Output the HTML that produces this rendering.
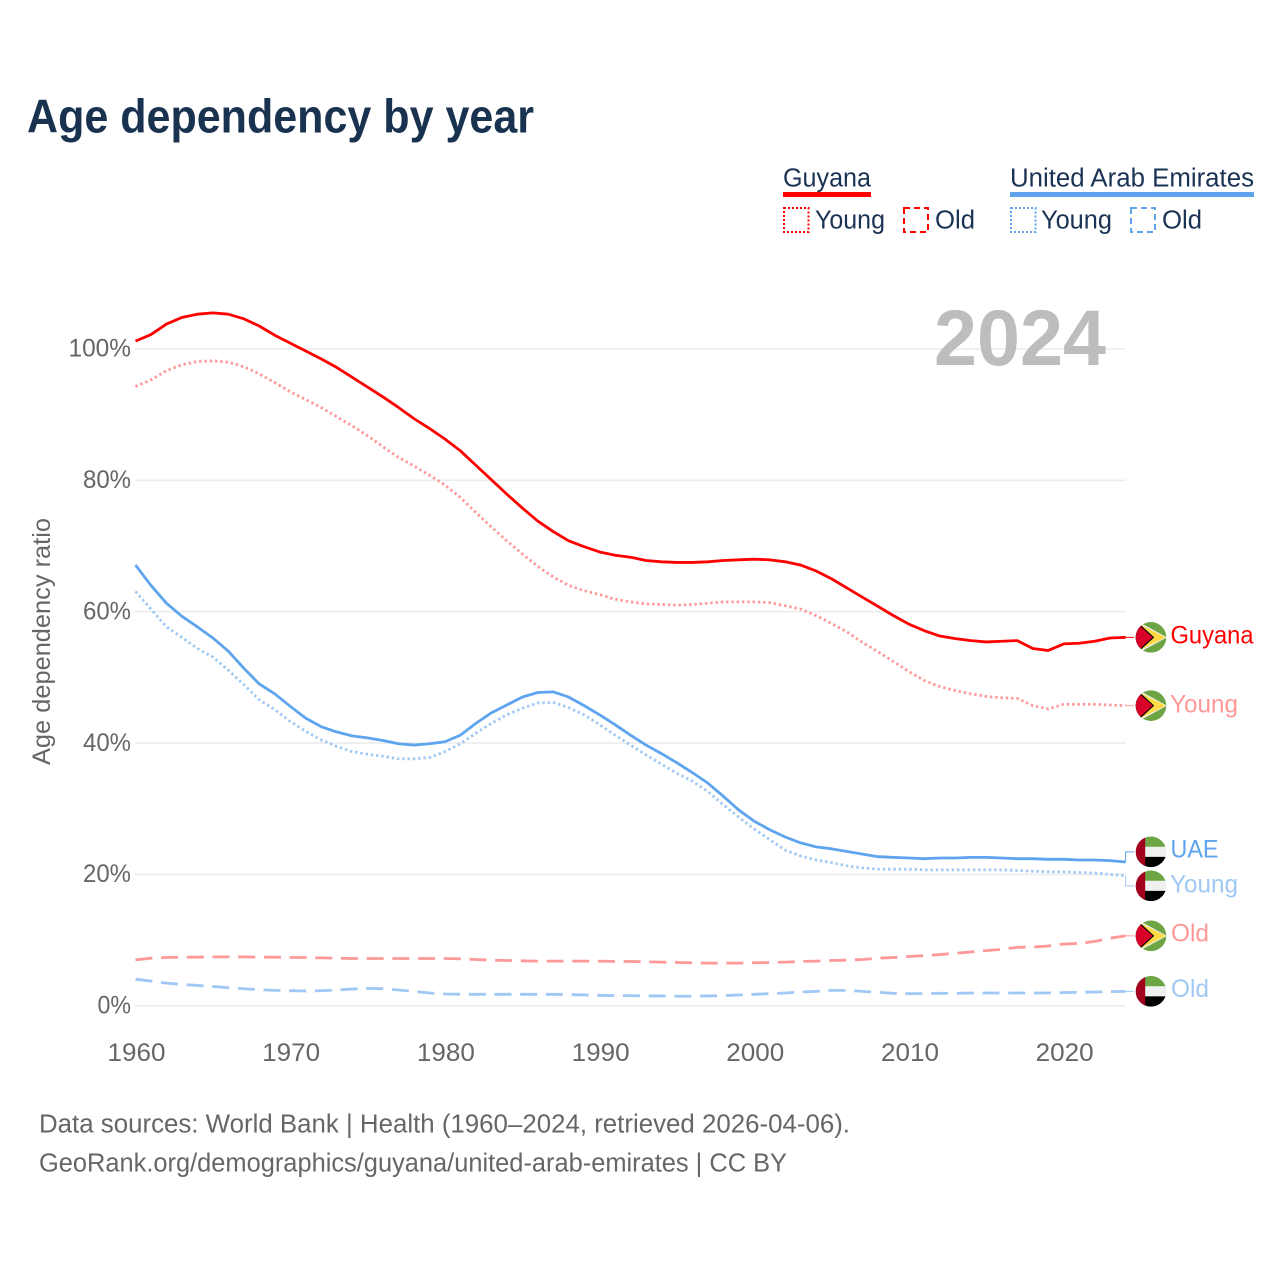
<!DOCTYPE html>
<html lang="en">
<head>
<meta charset="utf-8">
<title>Age dependency by year</title>
<style>
html,body{margin:0;padding:0;background:#fff;}
svg{display:block;}
text{font-family:"Liberation Sans",sans-serif;}
</style>
</head>
<body>
<svg id="chart" xmlns="http://www.w3.org/2000/svg" width="1280" height="1280" viewBox="0 0 1280 1280">
  <rect x="0" y="0" width="1280" height="1280" fill="#ffffff"/>
  <text x="27" y="132.5" font-size="47" font-weight="700" fill="#18324f" textLength="507" lengthAdjust="spacingAndGlyphs">Age dependency by year</text>

  <g font-size="25.5" fill="#1a3354">
    <text x="783" y="186.5" textLength="88" lengthAdjust="spacingAndGlyphs">Guyana</text>
    <rect x="783" y="192" width="88" height="5" fill="#ff0000"/>
    <rect x="784" y="208" width="24.5" height="24" fill="none" stroke="#ff0000" stroke-width="2" stroke-dasharray="2 2"/>
    <text x="815" y="228.5" textLength="70" lengthAdjust="spacingAndGlyphs">Young</text>
    <rect x="904" y="208" width="24" height="24" fill="none" stroke="#ff0000" stroke-width="2" stroke-dasharray="6 4"/>
    <text x="935" y="228.5" textLength="40" lengthAdjust="spacingAndGlyphs">Old</text>

    <text x="1010" y="186.5" textLength="244" lengthAdjust="spacingAndGlyphs">United Arab Emirates</text>
    <rect x="1010" y="192" width="244" height="5" fill="#5ea4ee"/>
    <rect x="1011" y="208" width="24.5" height="24" fill="none" stroke="#5ea4ee" stroke-width="2" stroke-dasharray="2 2"/>
    <text x="1041" y="228.5" textLength="71" lengthAdjust="spacingAndGlyphs">Young</text>
    <rect x="1131" y="208" width="24" height="24" fill="none" stroke="#5ea4ee" stroke-width="2" stroke-dasharray="6 4"/>
    <text x="1162" y="228.5" textLength="40" lengthAdjust="spacingAndGlyphs">Old</text>
  </g>

  <g id="grid"></g>
  <text x="934" y="365" font-size="79" font-weight="700" fill="#bdbdbd" textLength="172" lengthAdjust="spacingAndGlyphs">2024</text>
  <g id="yticks"></g>
  <g id="xticks"></g>
  <text transform="translate(50,765) rotate(-90)" x="0" y="0" font-size="25" fill="#666666" textLength="247" lengthAdjust="spacingAndGlyphs">Age dependency ratio</text>
  <g id="series"></g>
  <g id="endlabels"></g>

  <text x="39" y="1132.5" font-size="25.5" fill="#666666" textLength="811" lengthAdjust="spacingAndGlyphs">Data sources: World Bank | Health (1960–2024, retrieved 2026-04-06).</text>
  <text x="39" y="1171.5" font-size="25.5" fill="#666666" textLength="748" lengthAdjust="spacingAndGlyphs">GeoRank.org/demographics/guyana/united-arab-emirates | CC BY</text>
</svg>

<script>
var startYear = 1960;
var xTickLabels = [1960, 1970, 1980, 1990, 2000, 2010, 2020];
var yTickLabels = [0, 20, 40, 60, 80, 100];

var guyanaTotal = [101.2,102.2,103.8,104.8,105.3,105.5,105.3,104.6,103.5,102.1,100.9,99.7,98.5,97.2,95.7,94.2,92.7,91.1,89.4,87.9,86.3,84.5,82.3,80.1,77.9,75.8,73.8,72.2,70.8,69.9,69.1,68.6,68.3,67.8,67.6,67.5,67.5,67.6,67.8,67.9,68.0,67.9,67.6,67.1,66.2,65.0,63.6,62.2,60.8,59.4,58.1,57.1,56.3,55.9,55.6,55.4,55.5,55.6,54.4,54.1,55.1,55.2,55.5,56.0,56.1];
var guyanaYoung = [94.3,95.3,96.7,97.6,98.1,98.2,98.0,97.3,96.2,94.9,93.5,92.3,91.1,89.7,88.3,86.8,85.1,83.5,82.2,80.8,79.3,77.4,75.1,72.9,70.8,68.8,66.9,65.3,64.0,63.2,62.6,61.9,61.5,61.2,61.1,61.0,61.1,61.3,61.5,61.5,61.5,61.4,60.9,60.4,59.4,58.2,56.9,55.3,53.9,52.4,50.9,49.5,48.6,48.0,47.5,47.1,46.9,46.8,45.7,45.2,45.9,45.9,45.9,45.8,45.7];
var guyanaOld = [7.0,7.25,7.35,7.4,7.4,7.45,7.45,7.45,7.4,7.4,7.35,7.35,7.3,7.25,7.2,7.2,7.2,7.2,7.2,7.2,7.2,7.15,7.05,6.95,6.9,6.85,6.8,6.8,6.8,6.8,6.8,6.75,6.75,6.7,6.65,6.6,6.55,6.5,6.5,6.5,6.55,6.6,6.65,6.75,6.8,6.9,6.95,7.05,7.25,7.35,7.5,7.65,7.8,8.0,8.2,8.4,8.6,8.9,8.95,9.1,9.4,9.5,9.8,10.3,10.65];
var uaeTotal = [67.1,64.0,61.3,59.3,57.7,56.0,54.0,51.4,49.0,47.5,45.6,43.8,42.5,41.7,41.1,40.8,40.4,39.9,39.7,39.9,40.2,41.2,43.0,44.6,45.8,47.0,47.7,47.8,47.0,45.7,44.3,42.8,41.2,39.7,38.4,37.0,35.5,33.9,31.9,29.8,28.1,26.8,25.7,24.8,24.2,23.9,23.5,23.1,22.7,22.6,22.5,22.4,22.5,22.5,22.6,22.6,22.5,22.4,22.4,22.3,22.3,22.2,22.2,22.1,21.9];
var uaeYoung = [63.1,60.4,57.7,56.1,54.4,53.1,51.1,48.9,46.6,45.1,43.3,41.8,40.5,39.5,38.7,38.3,38.0,37.6,37.6,37.8,38.7,39.9,41.5,43.0,44.3,45.3,46.1,46.2,45.4,44.3,42.8,41.2,39.7,38.2,36.8,35.4,34.2,32.6,30.6,28.7,26.9,25.3,23.7,22.8,22.2,21.8,21.3,21.0,20.8,20.8,20.8,20.7,20.7,20.7,20.7,20.7,20.7,20.6,20.5,20.4,20.4,20.3,20.2,20.0,19.8];
var uaeOld = [4.05,3.75,3.45,3.25,3.1,2.95,2.75,2.6,2.45,2.35,2.3,2.25,2.3,2.4,2.55,2.65,2.6,2.4,2.2,1.95,1.8,1.75,1.75,1.75,1.75,1.75,1.75,1.75,1.7,1.65,1.6,1.55,1.55,1.5,1.5,1.45,1.45,1.5,1.55,1.65,1.75,1.85,1.95,2.1,2.2,2.35,2.35,2.2,2.05,1.9,1.85,1.85,1.9,1.9,1.95,1.95,1.95,1.95,1.95,1.95,2.0,2.05,2.1,2.15,2.2];

var SVGNS = 'http://www.w3.org/2000/svg';
function xScale(year){ return 135.5 + (year - startYear) * 15.47; }
function yScale(v){ return 1005.8 - v * 6.568; }
function mk(tag, attrs, parent){
  var e = document.createElementNS(SVGNS, tag);
  for (var k in attrs) e.setAttribute(k, attrs[k]);
  parent.appendChild(e);
  return e;
}

var grid = document.getElementById('grid');
var yt = document.getElementById('yticks');
var xt = document.getElementById('xticks');
yTickLabels.forEach(function(v){
  var line = mk('line', {x1:135, x2:1125.5, y1:yScale(v), y2:yScale(v), stroke:'#ececec', 'stroke-width':1.6}, grid);
  
  
  var s = v + '%';
  var t = mk('text', {x:131, y:yScale(v)+7.7, 'text-anchor':'end', 'font-size':25, fill:'#666666',
    textLength:(String(v).length*14.5+19), lengthAdjust:'spacingAndGlyphs'}, yt);
  t.textContent = s;
  
  
});
xTickLabels.forEach(function(y){
  var t = mk('text', {x:xScale(y)+1, y:1061, 'text-anchor':'middle', 'font-size':25, fill:'#666666',
    textLength:58, lengthAdjust:'spacingAndGlyphs'}, xt);
  t.textContent = String(y);
  
  
});

function seriesList(){
  return [
    {key:'guyana-total', values:guyanaTotal, color:'#ff0000', dash:'', flag:'guyana', label:'Guyana', labelX:1170.5, labelW:83, dy:6.3},
    {key:'guyana-young', values:guyanaYoung, color:'#ff9999', dash:'2.4 2.9', flag:'guyana', label:'Young', labelX:1170, labelW:68, dy:6.8},
    {key:'guyana-old', values:guyanaOld, color:'#ff9999', dash:'17 8.7', flag:'guyana', label:'Old', labelX:1171, labelW:38, dy:5.6},
    {key:'uae-total', values:uaeTotal, color:'#5ea4ee', dash:'', flag:'uae', label:'UAE', labelX:1170.5, labelW:48, dy:5.6},
    {key:'uae-young', values:uaeYoung, color:'#9fc8f4', dash:'2.4 2.9', flag:'uae', label:'Young', labelX:1170, labelW:68, dy:6.8},
    {key:'uae-old', values:uaeOld, color:'#9fc8f4', dash:'17 8.7', flag:'uae', label:'Old', labelX:1171, labelW:38, dy:5.7}
  ];
}
var list = seriesList();

var sg = document.getElementById('series');
list.slice().reverse().forEach(function(s){
  var d = s.values.map(function(v, i){
    return (i ? 'L' : 'M') + xScale(startYear + i).toFixed(2) + ' ' + yScale(v).toFixed(2);
  }).join(' ');
  var attrs = {d:d, fill:'none', stroke:s.color, 'stroke-width':2.8, 'stroke-linejoin':'round'};
  if (s.dash) attrs['stroke-dasharray'] = s.dash;
  var p = mk('path', attrs, sg);
  
  
});

/* resolve end-label collisions: keep labels at least minGap apart */
var minGap = 34;
var ordered = list.map(function(s){
  return {s:s, y0:yScale(s.values[s.values.length-1]), y:yScale(s.values[s.values.length-1])};
}).sort(function(a,b){ return a.y0 - b.y0; });
for (var i = 1; i < ordered.length; i++){
  var gap = ordered[i].y - ordered[i-1].y;
  if (gap < minGap){
    var mid = (ordered[i].y + ordered[i-1].y) / 2;
    ordered[i-1].y = mid - minGap / 2;
    ordered[i].y = mid + minGap / 2;
  }
}

var defs = mk('defs', {}, document.getElementById('chart'));
var lab = document.getElementById('endlabels');
var FX = 1151, R = 15.3;
ordered.forEach(function(o, idx){
  var s = o.s, y0 = o.y0, y = o.y, key = s.key;
  var xEnd = xScale(2024);
  var dStr = Math.abs(y - y0) < 0.5
    ? 'M' + xEnd + ' ' + y0 + ' L1134 ' + y
    : 'M' + xEnd + ' ' + y0 + ' L' + xEnd + ' ' + y + ' L1134 ' + y;
  var conn = mk('path', {d:dStr, fill:'none', stroke:s.color, 'stroke-width':1}, lab);
  
  

  var cp = mk('clipPath', {id:'clip-' + key}, defs);
  mk('circle', {cx:FX, cy:y, r:R}, cp);
  var g = mk('g', {'clip-path':'url(#clip-' + key + ')'}, lab);
  
  
  function tri(pts, fill){
    var str = pts.map(function(p){ return (FX + p[0]) + ',' + (y + p[1]); }).join(' ');
    mk('polygon', {points:str, fill:fill}, g);
  }
  function box(x, yy, w, h, fill){
    mk('rect', {x:FX + x, y:y + yy, width:w, height:h, fill:fill}, g);
  }
  if (s.flag === 'guyana'){
    box(-16, -16, 32, 32, '#6da544');
    tri([[-12.5,-15.5],[16,0],[-12.5,15.5]], '#f0f0f0');
    tri([[-12.5,-13.6],[14.7,0],[-12.5,13.6]], '#ffda44');
    tri([[-16,-13.5],[-11,-13],[3.2,0],[-11,13],[-16,13.5]], '#000000');
    tri([[-16,-12],[-11,-11.3],[1.7,0],[-11,11.3],[-16,12]], '#d80027');
  } else {
    box(-16, -16, 32, 11, '#6da544');
    box(-16, -5, 32, 10, '#f0f0f0');
    box(-16, 5, 32, 11, '#000000');
    box(-16, -16, 10.2, 32, '#a2001d');
  }

  var t = mk('text', {x:s.labelX, y:y + s.dy, 'font-size':25, fill:s.color,
    textLength:s.labelW, lengthAdjust:'spacingAndGlyphs'}, lab);
  t.textContent = s.label;
  
  
});
</script>
</body>
</html>
